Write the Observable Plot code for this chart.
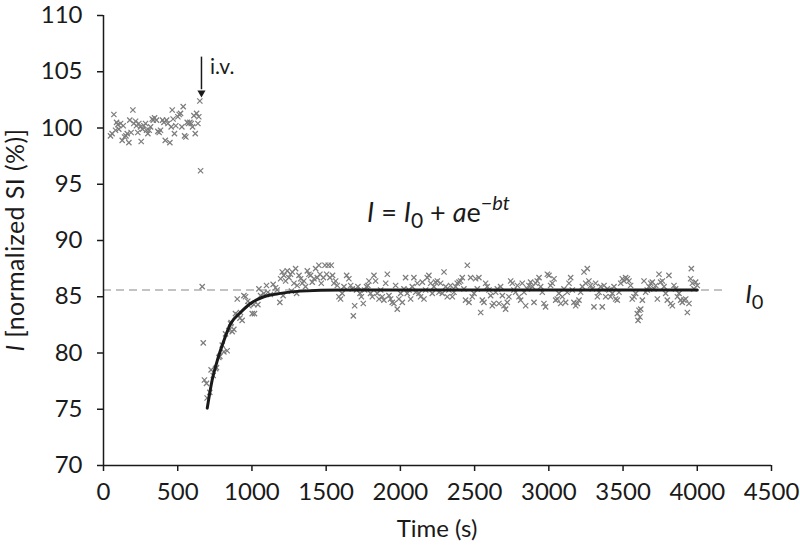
<!DOCTYPE html>
<html><head><meta charset="utf-8">
<script src="https://cdn.jsdelivr.net/npm/d3@7"></script>
<script src="https://cdn.jsdelivr.net/npm/@observablehq/plot@0.6"></script>
<style>
body{margin:0;background:#fff;}
#chart svg{display:block;}
#chart svg g[aria-label$="tick label"] text{font-size:24px !important;font-family:Lato,'Open Sans',sans-serif;}
</style></head><body><div id="chart"></div>
<script>
// [time (s), normalized SI (%)]
const baseline = [
[47,99.3],[58,99.5],[70,101.2],[81,99.8],[88,100.5],[97,100.3],[103,99.9],[115,100.4],[126,98.9],[133,100.2],
[142,99.2],[151,99.3],[160,99.5],[171,98.7],[177,100.7],[186,99.6],[198,101.6],[204,100.4],[216,100.6],[222,100.2],
[231,99.6],[238,100.4],[249,100.1],[254,98.8],[263,99.9],[272,100.2],[283,100.4],[290,99.8],[299,99.5],[308,99.8],
[317,100.1],[328,100.8],[335,100.7],[344,100.9],[357,100.7],[366,99.7],[375,99.6],[384,99.8],[398,100.7],[407,100.5],
[416,98.9],[425,100.7],[434,100.4],[447,98.7],[456,100.1],[463,101.6],[469,100.8],[478,99.5],[487,100.2],[501,101.0],
[510,101.2],[519,101.3],[528,100.1],[537,101.9],[546,99.3],[555,99.2],[564,100.5],[573,100.4],[582,100.5],[591,100.4],
[600,100.1],[609,101.1],[618,99.5],[627,101.3],[636,100.4],[642,101.0],[649,102.4],[654,96.2]
];
const recovery = [
[665,85.9],[672,80.9],[680,77.6],[694,77.3],[698,76.0],[716,76.5],[725,78.5],[739,78.0],[755,78.6],[761,78.7],
[777,79.6],[784,79.7],[800,80.7],[811,80.1],[822,81.7],[833,80.2],[844,82.0],[856,82.6],[860,82.7],[867,81.9],
[878,82.1],[889,83.5],[901,84.8],[905,83.4],[919,83.1],[923,83.6],[934,82.9],[946,85.1],[957,85.0],[972,84.6],
[979,84.2],[990,84.4],[1002,83.5],[1013,84.3],[1017,83.5],[1040,84.3],[1047,85.7],[1058,85.1],[1080,85.3],[1098,86.0],
[1107,85.4],[1125,85.2],[1143,86.1],[1159,85.8],[1170,85.6],[1188,84.5]
];
const plateau = [
[1193,86.6],[1204,87.2],[1210,85.1],[1215,86.9],[1227,86.4],[1238,87.3],[1249,86.7],[1260,87.0],[1266,85.5],[1272,87.2],
[1283,86.2],[1294,87.5],[1301,85.3],[1305,86.0],[1317,86.9],[1328,86.6],[1339,86.2],[1350,86.4],[1361,85.9],[1373,87.3],
[1384,87.0],[1395,86.9],[1406,86.3],[1418,86.6],[1429,87.5],[1440,86.7],[1451,87.8],[1458,87.0],[1467,86.2],[1481,86.7],
[1492,87.8],[1503,87.0],[1514,87.8],[1525,86.7],[1534,87.8],[1543,86.9],[1552,86.2],[1564,86.4],[1575,86.0],[1586,85.0],
[1597,84.8],[1608,85.3],[1620,85.9],[1638,86.9],[1653,86.6],[1665,86.0],[1676,85.7],[1683,83.3],[1692,84.2],[1705,85.6],
[1714,85.9],[1728,85.3],[1737,85.0],[1750,84.4],[1759,85.6],[1772,85.9],[1781,86.0],[1788,86.4],[1799,85.3],[1811,85.0],
[1822,86.9],[1833,86.4],[1844,85.3],[1856,84.8],[1867,85.6],[1878,85.0],[1889,84.7],[1901,86.2],[1912,87.0],[1923,85.1],
[1934,84.8],[1945,84.5],[1957,84.4],[1968,86.0],[1979,83.9],[1990,84.8],[2002,85.3],[2013,84.5],[2024,85.7],[2035,86.7],
[2046,85.3],[2058,85.6],[2069,84.8],[2080,85.9],[2091,86.7],[2103,85.4],[2114,86.2],[2125,85.3],[2136,85.0],[2148,86.3],
[2159,84.8],[2170,85.6],[2181,86.7],[2192,86.9],[2204,86.2],[2215,85.3],[2226,85.9],[2237,86.3],[2249,86.4],[2260,85.4],
[2271,86.2],[2282,85.3],[2294,87.2],[2305,85.9],[2316,85.0],[2327,85.6],[2338,86.0],[2350,85.0],[2361,85.4],[2372,85.9],
[2383,86.2],[2395,86.3],[2406,86.4],[2417,86.7],[2428,85.7],[2439,84.7],[2451,87.8],[2462,84.5],[2473,86.7],[2484,85.0],
[2496,85.3],[2507,86.6],[2518,85.7],[2529,86.7],[2541,83.6],[2552,84.7],[2563,84.5],[2574,86.2],[2585,85.9],[2597,85.6],
[2608,85.1],[2619,84.2],[2630,84.4],[2642,85.4],[2653,85.7],[2664,84.4],[2675,85.9],[2687,85.1],[2698,84.2],[2709,83.9],
[2720,84.5],[2731,85.0],[2743,86.4],[2754,86.2],[2765,85.6],[2776,85.4],[2788,86.0],[2799,85.0],[2810,84.7],[2821,86.2],
[2833,85.4],[2844,84.2],[2855,85.7],[2866,86.0],[2877,86.3],[2889,85.9],[2900,84.5],[2911,86.2],[2922,86.4],[2934,86.7],
[2945,85.9],[2956,85.4],[2967,84.4],[2978,84.1],[2990,87.0],[3001,86.9],[3012,86.0],[3023,86.2],[3035,86.6],[3046,84.7],
[3057,84.8],[3068,85.3],[3080,84.4],[3091,85.0],[3102,85.7],[3113,84.5],[3124,85.4],[3136,86.2],[3147,86.7],[3158,85.6],
[3169,84.5],[3181,84.2],[3192,84.4],[3203,84.7],[3214,85.4],[3226,85.9],[3237,87.2],[3248,86.2],[3259,87.5],[3270,86.4],
[3282,86.0],[3293,85.7],[3304,84.1],[3315,86.2],[3327,85.0],[3338,85.4],[3349,85.9],[3360,84.1],[3372,86.0],[3383,85.0],
[3394,85.7],[3405,85.6],[3416,85.0],[3428,85.3],[3439,85.9],[3450,84.8],[3461,84.7],[3473,85.4],[3484,86.2],[3495,86.6],
[3506,86.4],[3517,86.7],[3529,86.6],[3540,86.4],[3551,86.0],[3562,84.8],[3574,85.0],[3585,85.3],[3596,83.5],[3601,82.9],
[3607,83.8],[3614,83.2],[3619,83.9],[3630,84.7],[3641,86.4],[3652,85.4],[3663,85.6],[3675,85.9],[3686,86.2],[3697,86.3],
[3708,85.7],[3720,86.0],[3731,84.8],[3742,87.0],[3753,86.3],[3765,86.4],[3776,85.9],[3787,85.3],[3798,84.7],[3809,86.9],
[3821,84.4],[3832,84.2],[3843,86.0],[3854,85.7],[3866,85.0],[3877,85.3],[3888,84.7],[3899,84.5],[3910,84.7],[3922,84.8],
[3933,83.6],[3944,84.4],[3955,86.6],[3960,87.5],[3967,86.2],[3978,85.7],[3989,86.3],[4000,86.0]
];
// fitted curve I = I0 + a e^(-bt)
const fitTime   = [699, 732, 766, 811, 856, 923, 990, 1080, 1193, 1327, 1600, 2500, 4000];
const fitSignal = [75.1, 77.6, 79.3, 81.1, 82.6, 83.6, 84.4, 85.0, 85.3, 85.5, 85.6, 85.6, 85.6];
const I0 = 85.6;
const I0LineEnd = 4200;
const injectionTime = 660;
const xTicks = [0, 500, 1000, 1500, 2000, 2500, 3000, 3500, 4000, 4500];
const yTicks = [70, 75, 80, 85, 90, 95, 100, 105, 110];

const points = [...baseline, ...recovery, ...plateau].map(([t, v]) => ({t, v}));
const fit = fitTime.map((t, i) => ({t, v: fitSignal[i]}));

const FONT = "Lato, 'Open Sans', sans-serif";
const INK = "#1a1a1a";

const plot = Plot.plot({
  width: 800, height: 548,
  marginLeft: 103, marginRight: 29, marginTop: 15, marginBottom: 83,
  style: {fontFamily: FONT, fontSize: "24px", color: INK, background: "white", overflow: "visible"},
  x: {domain: [0, 4500]},
  y: {domain: [70, 110]},
  marks: [
    Plot.ruleY([I0], {x1: 0, x2: I0LineEnd, stroke: "#b0b0b0", strokeWidth: 1.5, strokeDasharray: "8,5"}),
    Plot.dot(points, {x: "t", y: "v", symbol: "times", r: 2.5, stroke: "#7c7c7c", strokeWidth: 1.2}),
    Plot.line(fit, {x: "t", y: "v", curve: "monotone-x", stroke: INK, strokeWidth: 3}),
    Plot.ruleX([injectionTime], {y1: 106.3, y2: 103.4, stroke: INK, strokeWidth: 1.5}),
    Plot.dot([{t: injectionTime, v: 103.13}], {x: "t", y: "v", symbol: "triangle", rotate: 180, r: 3, fill: INK, stroke: null}),
    Plot.ruleX([0], {stroke: INK, strokeWidth: 1.5}),
    Plot.ruleY([70], {stroke: INK, strokeWidth: 1.5}),
    Plot.axisX({ticks: xTicks, tickFormat: d3.format("d"), tickSize: 6, tickPadding: 11, strokeWidth: 1.5, fontSize: 24, label: null}),
    Plot.axisY({ticks: yTicks, tickFormat: d3.format("d"), tickSize: 6, tickPadding: 15, strokeWidth: 1.5, fontSize: 24, label: null})
  ]
});
document.getElementById("chart").appendChild(plot);

const sx = plot.scale("x"), sy = plot.scale("y");
const svg = d3.select(plot);
const g = svg.append("g").attr("font-family", FONT).attr("fill", INK).attr("text-anchor", "start");

// equation
const eq = g.append("text").attr("x", sx.apply(1779)).attr("y", sy.apply(91.6)).attr("font-size", 27);
eq.append("tspan").attr("font-style", "italic").text("I");
eq.append("tspan").text(" = ");
eq.append("tspan").attr("font-style", "italic").text("I");
eq.append("tspan").attr("font-size", 21).attr("dy", 6).text("0");
eq.append("tspan").attr("dy", -6).text(" + ");
eq.append("tspan").attr("font-style", "italic").text("a");
eq.append("tspan").text("e");
eq.append("tspan").attr("font-size", 20).attr("dy", -12).text("\u2212");
eq.append("tspan").attr("font-size", 20).attr("font-style", "italic").text("bt");

// I0 label
const l0 = g.append("text").attr("x", sx.apply(4326)).attr("y", sy.apply(84.4)).attr("font-size", 25);
l0.append("tspan").attr("font-style", "italic").text("I");
l0.append("tspan").attr("font-size", 20).attr("dy", 6).text("0");

// i.v.
g.append("text").attr("x", sx.apply(721)).attr("y", sy.apply(104.8)).attr("font-size", 21).text("i.v.");

// axis titles
g.append("text").attr("x", sx.apply(2250)).attr("y", sy.apply(70) + 72)
  .attr("text-anchor", "middle").attr("font-size", 24).text("Time (s)");
const yl = g.append("text").attr("transform", `translate(24,${sy.apply(90)}) rotate(-90)`)
  .attr("text-anchor", "middle").attr("font-size", 25).attr("letter-spacing", 0.4);
yl.append("tspan").attr("font-style", "italic").text("I");
yl.append("tspan").text(" [normalized SI (%)]");
</script></body></html>
